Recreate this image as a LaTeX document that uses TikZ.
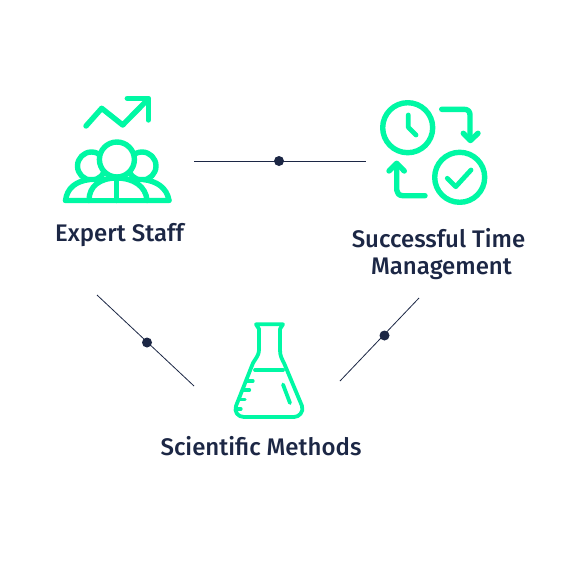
\documentclass[tikz,border=0pt]{standalone}
\usepackage{fontspec}
\setmainfont{Fira Sans Medium}
\definecolor{mint}{HTML}{00F8A4}
\definecolor{navy}{HTML}{1C2745}
\tikzset{
  icon/.style={draw=mint,line width=#1,line cap=round,line join=round},
  icon/.default=5.4pt,
  rule/.style={draw=navy,line width=0.8pt},
  dot/.style={circle,fill=navy,inner sep=0pt,minimum size=10pt},
  label/.style={text=navy,font=\fontsize{24}{26.5}\selectfont,align=center,inner sep=0pt}
}
\begin{document}
\begin{tikzpicture}[x=1pt,y=-1pt]
\useasboundingbox (0,0) rectangle (570,570);
\fill[white] (0,0) rectangle (570,570);
% connectors
\coordinate (t1) at (194,161); \coordinate (t2) at (366,161);
\coordinate (l1) at (97,295); \coordinate (l2) at (194,386);
\coordinate (r1) at (419,298); \coordinate (r2) at (340,381);
\draw[rule] (t1) -- (t2);
\draw[rule] (l1) -- (l2);
\draw[rule] (r1) -- (r2);
\node[dot] (dt) at (279,161) {};
\node[dot] (dl) at (147,342.5) {};
\node[dot] (dr) at (384.5,335.5) {};
% staff icon
\draw[icon] (86,126) -- (101.7,108.3) -- (122.7,125) -- (148.3,99);
\draw[icon] (127.3,98.3) -- (148.3,98.3) -- (148.3,120);
\draw[icon,fill=white] (91.5,166) circle (14);
\draw[icon,fill=white] (142,166) circle (14);
\draw[icon,fill=white] (65.5,200.5) .. controls (67,188) and (76,181) .. (90,179.5) -- (143,179.5) .. controls (157,181) and (167,188) .. (169,200.5) -- cycle;
\draw[icon,fill=white] (89,200.5) .. controls (89,186) and (100,178) .. (116.7,178) .. controls (133,178) and (146,186) .. (147,200.5);
\draw[icon] (116.7,177) -- (116.7,200.5);
\draw[icon] (65.5,200.5) -- (169,200.5);
\draw[icon,fill=white] (116.9,159.5) circle (17.5);
% time icon
\draw[icon] (407.7,127.7) circle (25);
\draw[icon,line width=4.8pt] (408.3,115) -- (408.3,127.3) -- (416,135);
\draw[icon] (459.7,177.3) circle (25);
\draw[icon,line width=4.8pt] (447.3,178.3) -- (455.7,186.7) -- (471,170);
\draw[icon] (441.7,109.3) -- (464,109.3) .. controls (468,109.3) and (470,111.5) .. (470,115) -- (470,140);
\draw[icon] (463.3,133.3) -- (470.5,140.5) -- (478,133.3);
\draw[icon] (425,195.7) -- (403,195.7) .. controls (399,195.7) and (396.7,193) .. (396.7,190) -- (396.7,164);
\draw[icon] (389,171) -- (396.7,163.3) -- (404.3,171);
% flask icon
\draw[icon=3.8pt] (256,324.3) -- (283,324.3) -- (280,329) -- (280,350) .. controls (280,356) and (282,359) .. (284,363) -- (302,406) .. controls (304,412) and (299,417) .. (294,417) -- (244,417) .. controls (238,417) and (234,412) .. (236,406) -- (253,363) .. controls (256,358) and (259,355) .. (259,350) -- (259,329) -- cycle;
\draw[icon=3.8pt] (255,370) -- (283,370);
\draw[icon=3.8pt] (283,384.5) -- (290,403);
\draw[icon=3.2pt] (247,381) -- (253,381);
\draw[icon=3.2pt] (243.5,390) -- (249.5,390);
\draw[icon=3.2pt] (240,399.5) -- (245,399.5);
\draw[icon=3.2pt] (237,409) -- (241,409);
% labels
\node[label] (staff) at (119.5,235) {Expert Staff};
\node[label] (time) at (438.5,254) {Successful Time\\\hspace*{6pt}Management};
\node[label] (sci) at (261,446.5) {Scientific Methods};
\end{tikzpicture}
\end{document}
